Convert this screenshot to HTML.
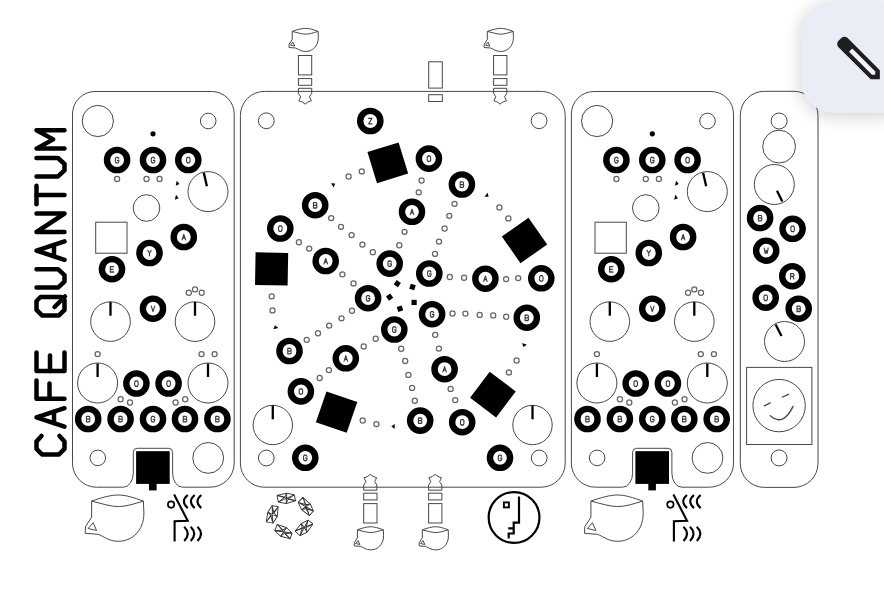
<!DOCTYPE html><html><head><meta charset="utf-8"><style>html,body{margin:0;padding:0;background:#fff}svg{display:block}</style></head><body><svg width="884" height="596" viewBox="0 0 884 596" font-family="Liberation Sans, sans-serif">
<rect width="884" height="596" fill="#fff"/>
<g fill="none" stroke="#000" stroke-width="4.5" stroke-linecap="round" stroke-linejoin="round">
<path d="M41.5,436.0 L36.5,441.5 L36.5,448.9 L42.0,454.4 L59.0,454.4 L64.5,448.9 L64.5,441.5 L59.5,436.0"/>
<path d="M64.5,426.6 L36.5,417.4 L64.5,408.2"/>
<path d="M54.0,423.1 L54.0,411.7"/>
<path d="M64.5,398.8 L36.5,398.8 L36.5,380.4"/>
<path d="M49.5,398.8 L49.5,383.4"/>
<path d="M64.5,352.6 L64.5,371.0 L36.5,371.0 L36.5,352.6"/>
<path d="M50.0,371.0 L50.0,355.6"/>
<path d="M64.5,309.9 L64.5,300.0 L61.5,297.0 L40.5,297.0 L36.5,301.0 L36.5,309.9 L42.0,315.4 L59.0,315.4 L64.5,309.9"/>
<path d="M54.5,307.0 L65.0,296.5"/>
<path d="M36.5,287.6 L58.0,287.6 L64.5,281.6 L64.5,275.2 L58.0,269.2 L36.5,269.2"/>
<path d="M64.5,259.8 L36.5,250.6 L64.5,241.4"/>
<path d="M54.0,256.3 L54.0,244.9"/>
<path d="M64.5,232.0 L36.5,232.0 L64.5,213.6 L36.5,213.6"/>
<path d="M36.5,204.2 L36.5,185.8"/>
<path d="M36.5,195.0 L64.5,195.0"/>
<path d="M36.5,176.4 L58.0,176.4 L64.5,170.4 L64.5,164.0 L58.0,158.0 L36.5,158.0"/>
<path d="M64.5,148.6 L36.5,148.6 L53.2,139.4 L36.5,130.2 L64.5,130.2"/>
</g>
<g transform="translate(0,0)">
<path d="M95.0,91.5 L211.7,91.5 A22.5,22.5 0 0 1 234.2,114.0 L234.2,463.2 A24,24 0 0 1 210.2,487.2 L182.6,487.2 A10,14 0 0 1 172.6,473.2 L172.6,452.3 A4,4 0 0 0 168.6,448.3 L137.3,448.3 A4,4 0 0 0 133.3,452.3 L133.3,473.2 A10,14 0 0 1 123.30000000000001,487.2 L96.5,487.2 A24,24 0 0 1 72.5,463.2 L72.5,114.0 A22.5,22.5 0 0 1 95.0,91.5 Z" fill="none" stroke="#484848" stroke-width="1.0"/>
<circle cx="97.8" cy="121.0" r="15.6" fill="none" stroke="#484848" stroke-width="1.0"/>
<circle cx="208.2" cy="121.0" r="7.8" fill="none" stroke="#484848" stroke-width="1.0"/>
<circle cx="153" cy="133.8" r="2.6" fill="#000"/>
<circle cx="117.1" cy="160.0" r="10.10" fill="#fff" stroke="#000" stroke-width="6.40"/>
<path d="M2.2,-1.8 L1.2,-3 L-1.2,-3 L-2.2,-1.8 L-2.2,1.8 L-1.2,3 L1.2,3 L2.2,1.8 L2.2,0.2 L0.3,0.2" transform="translate(117.1,160.1) scale(0.78,0.9)" fill="none" stroke="#3a3a3a" stroke-width="1.4" stroke-linejoin="round" stroke-linecap="round"/>
<circle cx="153.0" cy="160.0" r="10.10" fill="#fff" stroke="#000" stroke-width="6.40"/>
<path d="M2.2,-1.8 L1.2,-3 L-1.2,-3 L-2.2,-1.8 L-2.2,1.8 L-1.2,3 L1.2,3 L2.2,1.8 L2.2,0.2 L0.3,0.2" transform="translate(153.0,160.1) scale(0.78,0.9)" fill="none" stroke="#3a3a3a" stroke-width="1.4" stroke-linejoin="round" stroke-linecap="round"/>
<circle cx="188.3" cy="160.0" r="10.10" fill="#fff" stroke="#000" stroke-width="6.40"/>
<path d="M-1.2,-3 L1.2,-3 L2.2,-1.8 L2.2,1.8 L1.2,3 L-1.2,3 L-2.2,1.8 L-2.2,-1.8 Z" transform="translate(188.3,160.1) scale(0.78,0.9)" fill="none" stroke="#3a3a3a" stroke-width="1.4" stroke-linejoin="round" stroke-linecap="round"/>
<circle cx="117.1" cy="179.0" r="2.55" fill="#fff" stroke="#666" stroke-width="1.25"/>
<circle cx="146.5" cy="179.0" r="2.55" fill="#fff" stroke="#666" stroke-width="1.25"/>
<circle cx="159.6" cy="179.0" r="2.55" fill="#fff" stroke="#666" stroke-width="1.25"/>
<polygon points="179.45,183.96 176.75,180.78 175.69,185.77" fill="#000"/>
<polygon points="178.63,198.13 176.05,194.86 174.82,199.81" fill="#000"/>
<circle cx="208.0" cy="191.6" r="20" fill="none" stroke="#484848" stroke-width="1.0"/>
<line x1="203.8" y1="172.8" x2="206.9" y2="186.2" stroke="#000" stroke-width="2.3"/>
<circle cx="146.5" cy="208.0" r="13.3" fill="none" stroke="#484848" stroke-width="1.0"/>
<rect x="95.7" y="222.2" width="31.3" height="31" fill="none" stroke="#484848" stroke-width="1.0"/>
<circle cx="183.8" cy="237.0" r="10.10" fill="#fff" stroke="#000" stroke-width="6.40"/>
<path d="M-2.2,3 L0,-3 L2.2,3 M-1.4,1 L1.4,1" transform="translate(183.8,237.1) scale(0.78,0.9)" fill="none" stroke="#3a3a3a" stroke-width="1.4" stroke-linejoin="round" stroke-linecap="round"/>
<circle cx="149.5" cy="253.0" r="10.10" fill="#fff" stroke="#000" stroke-width="6.40"/>
<path d="M-2.2,-3 L0,0 L2.2,-3 M0,0 L0,3" transform="translate(149.5,253.1) scale(0.78,0.9)" fill="none" stroke="#3a3a3a" stroke-width="1.4" stroke-linejoin="round" stroke-linecap="round"/>
<circle cx="112.0" cy="269.2" r="10.10" fill="#fff" stroke="#000" stroke-width="6.40"/>
<path d="M2.2,-3 L-2.2,-3 L-2.2,3 L2.2,3 M-2.2,0 L1.4,0" transform="translate(112.0,269.3) scale(0.78,0.9)" fill="none" stroke="#3a3a3a" stroke-width="1.4" stroke-linejoin="round" stroke-linecap="round"/>
<circle cx="153.0" cy="308.7" r="10.10" fill="#fff" stroke="#000" stroke-width="6.40"/>
<path d="M-2.2,-3 L0,3 L2.2,-3" transform="translate(153.0,308.8) scale(0.78,0.9)" fill="none" stroke="#3a3a3a" stroke-width="1.4" stroke-linejoin="round" stroke-linecap="round"/>
<circle cx="110.5" cy="321.6" r="19.8" fill="none" stroke="#484848" stroke-width="1.0"/>
<line x1="110.5" y1="302.0" x2="110.5" y2="315.7" stroke="#000" stroke-width="2.3"/>
<circle cx="195.0" cy="321.6" r="19.8" fill="none" stroke="#484848" stroke-width="1.0"/>
<line x1="195.0" y1="302.0" x2="195.0" y2="315.7" stroke="#000" stroke-width="2.3"/>
<circle cx="188.8" cy="292.7" r="2.55" fill="#fff" stroke="#666" stroke-width="1.25"/>
<circle cx="195.0" cy="289.4" r="2.55" fill="#fff" stroke="#666" stroke-width="1.25"/>
<circle cx="201.7" cy="292.7" r="2.55" fill="#fff" stroke="#666" stroke-width="1.25"/>
<circle cx="97.6" cy="354.1" r="2.55" fill="#fff" stroke="#666" stroke-width="1.25"/>
<circle cx="201.5" cy="354.1" r="2.55" fill="#fff" stroke="#666" stroke-width="1.25"/>
<circle cx="214.6" cy="354.1" r="2.55" fill="#fff" stroke="#666" stroke-width="1.25"/>
<circle cx="97.6" cy="383.0" r="20" fill="none" stroke="#484848" stroke-width="1.0"/>
<line x1="97.6" y1="363.5" x2="97.6" y2="377.0" stroke="#000" stroke-width="2.3"/>
<circle cx="208.0" cy="383.0" r="20" fill="none" stroke="#484848" stroke-width="1.0"/>
<line x1="208.0" y1="363.5" x2="208.0" y2="377.0" stroke="#000" stroke-width="2.3"/>
<circle cx="136.4" cy="383.5" r="10.10" fill="#fff" stroke="#000" stroke-width="6.40"/>
<path d="M-1.2,-3 L1.2,-3 L2.2,-1.8 L2.2,1.8 L1.2,3 L-1.2,3 L-2.2,1.8 L-2.2,-1.8 Z" transform="translate(136.4,383.6) scale(0.78,0.9)" fill="none" stroke="#3a3a3a" stroke-width="1.4" stroke-linejoin="round" stroke-linecap="round"/>
<circle cx="168.6" cy="383.5" r="10.10" fill="#fff" stroke="#000" stroke-width="6.40"/>
<path d="M-1.2,-3 L1.2,-3 L2.2,-1.8 L2.2,1.8 L1.2,3 L-1.2,3 L-2.2,1.8 L-2.2,-1.8 Z" transform="translate(168.6,383.6) scale(0.78,0.9)" fill="none" stroke="#3a3a3a" stroke-width="1.4" stroke-linejoin="round" stroke-linecap="round"/>
<circle cx="120.6" cy="399.2" r="2.55" fill="#fff" stroke="#666" stroke-width="1.25"/>
<circle cx="130.0" cy="402.5" r="2.55" fill="#fff" stroke="#666" stroke-width="1.25"/>
<circle cx="175.6" cy="402.5" r="2.55" fill="#fff" stroke="#666" stroke-width="1.25"/>
<circle cx="185.2" cy="399.2" r="2.55" fill="#fff" stroke="#666" stroke-width="1.25"/>
<circle cx="88.2" cy="419.0" r="10.10" fill="#fff" stroke="#000" stroke-width="6.40"/>
<path d="M-2.2,0 L1.3,0 L2.0,-0.7 L2.0,-2.2 L1.2,-3 L-2.2,-3 L-2.2,3 L1.4,3 L2.2,2.2 L2.2,0.8 L1.3,0" transform="translate(88.2,419.1) scale(0.78,0.9)" fill="none" stroke="#3a3a3a" stroke-width="1.4" stroke-linejoin="round" stroke-linecap="round"/>
<circle cx="120.6" cy="419.0" r="10.10" fill="#fff" stroke="#000" stroke-width="6.40"/>
<path d="M-2.2,0 L1.3,0 L2.0,-0.7 L2.0,-2.2 L1.2,-3 L-2.2,-3 L-2.2,3 L1.4,3 L2.2,2.2 L2.2,0.8 L1.3,0" transform="translate(120.6,419.1) scale(0.78,0.9)" fill="none" stroke="#3a3a3a" stroke-width="1.4" stroke-linejoin="round" stroke-linecap="round"/>
<circle cx="153.0" cy="419.0" r="10.10" fill="#fff" stroke="#000" stroke-width="6.40"/>
<path d="M2.2,-1.8 L1.2,-3 L-1.2,-3 L-2.2,-1.8 L-2.2,1.8 L-1.2,3 L1.2,3 L2.2,1.8 L2.2,0.2 L0.3,0.2" transform="translate(153.0,419.1) scale(0.78,0.9)" fill="none" stroke="#3a3a3a" stroke-width="1.4" stroke-linejoin="round" stroke-linecap="round"/>
<circle cx="185.0" cy="419.0" r="10.10" fill="#fff" stroke="#000" stroke-width="6.40"/>
<path d="M-2.2,0 L1.3,0 L2.0,-0.7 L2.0,-2.2 L1.2,-3 L-2.2,-3 L-2.2,3 L1.4,3 L2.2,2.2 L2.2,0.8 L1.3,0" transform="translate(185.0,419.1) scale(0.78,0.9)" fill="none" stroke="#3a3a3a" stroke-width="1.4" stroke-linejoin="round" stroke-linecap="round"/>
<circle cx="217.4" cy="419.0" r="10.10" fill="#fff" stroke="#000" stroke-width="6.40"/>
<path d="M-2.2,0 L1.3,0 L2.0,-0.7 L2.0,-2.2 L1.2,-3 L-2.2,-3 L-2.2,3 L1.4,3 L2.2,2.2 L2.2,0.8 L1.3,0" transform="translate(217.4,419.1) scale(0.78,0.9)" fill="none" stroke="#3a3a3a" stroke-width="1.4" stroke-linejoin="round" stroke-linecap="round"/>
<circle cx="97.8" cy="457.9" r="7.8" fill="none" stroke="#484848" stroke-width="1.0"/>
<circle cx="208.2" cy="457.9" r="15.4" fill="none" stroke="#484848" stroke-width="1.0"/>
<rect x="136.1" y="451.2" width="33.6" height="32.7" fill="#000"/>
<rect x="149" y="483" width="7.6" height="7.4" fill="#000"/>
<g transform="translate(91.6,501.1) scale(1.0)" fill="none" stroke="#484848" stroke-width="1.00" stroke-linejoin="round">
<path d="M0,0 C10,-3.5 19,-6.1 26.7,-6.1 S42,-3.5 51.8,0 C42,3 34,5.5 26.7,5.5 S10,2.5 0,0 Z"/>
<path d="M0,0 L0,16.1 L-6.1,25.6 L-6.4,32.2 L6.5,33.2 C12,35 17,40.2 26.7,40.2 C40,40.2 52.3,30 52.3,12 L51.8,0"/>
<path d="M-3.5,27.4 L1.5,21.6 L5,29.4 Z"/>
</g>
<g fill="none" stroke="#000" stroke-width="2.1" stroke-linecap="butt">
<circle cx="171.1" cy="504.6" r="3.2" stroke-width="1.7"/>
<path d="M174.1,494.5 L187.7,520.7 L174.6,521.2 L174.6,541.4"/>
<path d="M187.7,495 Q180.1,501.5 187.7,508.1"/>
<path d="M194.7,495 Q187.1,501.5 194.7,508.1"/>
<path d="M201.3,495 Q193.70000000000002,501.5 201.3,508.1"/>
<path d="M184.2,526.8 Q191.2,533.8 184.2,540.9"/>
<path d="M190.7,526.8 Q197.7,533.8 190.7,540.9"/>
<path d="M197.5,526.8 Q204.5,533.8 197.5,540.9"/>
</g>
</g>
<g transform="translate(499.3,0)">
<path d="M94.6,91.5 L211.7,91.5 A22.5,22.5 0 0 1 234.2,114.0 L234.2,463.2 A24,24 0 0 1 210.2,487.2 L182.6,487.2 A10,14 0 0 1 172.6,473.2 L172.6,452.3 A4,4 0 0 0 168.6,448.3 L137.3,448.3 A4,4 0 0 0 133.3,452.3 L133.3,473.2 A10,14 0 0 1 123.30000000000001,487.2 L96.1,487.2 A24,24 0 0 1 72.1,463.2 L72.1,114.0 A22.5,22.5 0 0 1 94.6,91.5 Z" fill="none" stroke="#484848" stroke-width="1.0"/>
<circle cx="97.8" cy="121.0" r="15.6" fill="none" stroke="#484848" stroke-width="1.0"/>
<circle cx="208.2" cy="121.0" r="7.8" fill="none" stroke="#484848" stroke-width="1.0"/>
<circle cx="153" cy="133.8" r="2.6" fill="#000"/>
<circle cx="117.1" cy="160.0" r="10.10" fill="#fff" stroke="#000" stroke-width="6.40"/>
<path d="M2.2,-1.8 L1.2,-3 L-1.2,-3 L-2.2,-1.8 L-2.2,1.8 L-1.2,3 L1.2,3 L2.2,1.8 L2.2,0.2 L0.3,0.2" transform="translate(117.1,160.1) scale(0.78,0.9)" fill="none" stroke="#3a3a3a" stroke-width="1.4" stroke-linejoin="round" stroke-linecap="round"/>
<circle cx="153.0" cy="160.0" r="10.10" fill="#fff" stroke="#000" stroke-width="6.40"/>
<path d="M2.2,-1.8 L1.2,-3 L-1.2,-3 L-2.2,-1.8 L-2.2,1.8 L-1.2,3 L1.2,3 L2.2,1.8 L2.2,0.2 L0.3,0.2" transform="translate(153.0,160.1) scale(0.78,0.9)" fill="none" stroke="#3a3a3a" stroke-width="1.4" stroke-linejoin="round" stroke-linecap="round"/>
<circle cx="188.3" cy="160.0" r="10.10" fill="#fff" stroke="#000" stroke-width="6.40"/>
<path d="M-1.2,-3 L1.2,-3 L2.2,-1.8 L2.2,1.8 L1.2,3 L-1.2,3 L-2.2,1.8 L-2.2,-1.8 Z" transform="translate(188.3,160.1) scale(0.78,0.9)" fill="none" stroke="#3a3a3a" stroke-width="1.4" stroke-linejoin="round" stroke-linecap="round"/>
<circle cx="117.1" cy="179.0" r="2.55" fill="#fff" stroke="#666" stroke-width="1.25"/>
<circle cx="146.5" cy="179.0" r="2.55" fill="#fff" stroke="#666" stroke-width="1.25"/>
<circle cx="159.6" cy="179.0" r="2.55" fill="#fff" stroke="#666" stroke-width="1.25"/>
<polygon points="179.45,183.96 176.75,180.78 175.69,185.77" fill="#000"/>
<polygon points="178.63,198.13 176.05,194.86 174.82,199.81" fill="#000"/>
<circle cx="208.0" cy="191.6" r="20" fill="none" stroke="#484848" stroke-width="1.0"/>
<line x1="203.8" y1="172.8" x2="206.9" y2="186.2" stroke="#000" stroke-width="2.3"/>
<circle cx="146.5" cy="208.0" r="13.3" fill="none" stroke="#484848" stroke-width="1.0"/>
<rect x="95.7" y="222.2" width="31.3" height="31" fill="none" stroke="#484848" stroke-width="1.0"/>
<circle cx="183.8" cy="237.0" r="10.10" fill="#fff" stroke="#000" stroke-width="6.40"/>
<path d="M-2.2,3 L0,-3 L2.2,3 M-1.4,1 L1.4,1" transform="translate(183.8,237.1) scale(0.78,0.9)" fill="none" stroke="#3a3a3a" stroke-width="1.4" stroke-linejoin="round" stroke-linecap="round"/>
<circle cx="149.5" cy="253.0" r="10.10" fill="#fff" stroke="#000" stroke-width="6.40"/>
<path d="M-2.2,-3 L0,0 L2.2,-3 M0,0 L0,3" transform="translate(149.5,253.1) scale(0.78,0.9)" fill="none" stroke="#3a3a3a" stroke-width="1.4" stroke-linejoin="round" stroke-linecap="round"/>
<circle cx="112.0" cy="269.2" r="10.10" fill="#fff" stroke="#000" stroke-width="6.40"/>
<path d="M2.2,-3 L-2.2,-3 L-2.2,3 L2.2,3 M-2.2,0 L1.4,0" transform="translate(112.0,269.3) scale(0.78,0.9)" fill="none" stroke="#3a3a3a" stroke-width="1.4" stroke-linejoin="round" stroke-linecap="round"/>
<circle cx="153.0" cy="308.7" r="10.10" fill="#fff" stroke="#000" stroke-width="6.40"/>
<path d="M-2.2,-3 L0,3 L2.2,-3" transform="translate(153.0,308.8) scale(0.78,0.9)" fill="none" stroke="#3a3a3a" stroke-width="1.4" stroke-linejoin="round" stroke-linecap="round"/>
<circle cx="110.5" cy="321.6" r="19.8" fill="none" stroke="#484848" stroke-width="1.0"/>
<line x1="110.5" y1="302.0" x2="110.5" y2="315.7" stroke="#000" stroke-width="2.3"/>
<circle cx="195.0" cy="321.6" r="19.8" fill="none" stroke="#484848" stroke-width="1.0"/>
<line x1="195.0" y1="302.0" x2="195.0" y2="315.7" stroke="#000" stroke-width="2.3"/>
<circle cx="188.8" cy="292.7" r="2.55" fill="#fff" stroke="#666" stroke-width="1.25"/>
<circle cx="195.0" cy="289.4" r="2.55" fill="#fff" stroke="#666" stroke-width="1.25"/>
<circle cx="201.7" cy="292.7" r="2.55" fill="#fff" stroke="#666" stroke-width="1.25"/>
<circle cx="97.6" cy="354.1" r="2.55" fill="#fff" stroke="#666" stroke-width="1.25"/>
<circle cx="201.5" cy="354.1" r="2.55" fill="#fff" stroke="#666" stroke-width="1.25"/>
<circle cx="214.6" cy="354.1" r="2.55" fill="#fff" stroke="#666" stroke-width="1.25"/>
<circle cx="97.6" cy="383.0" r="20" fill="none" stroke="#484848" stroke-width="1.0"/>
<line x1="97.6" y1="363.5" x2="97.6" y2="377.0" stroke="#000" stroke-width="2.3"/>
<circle cx="208.0" cy="383.0" r="20" fill="none" stroke="#484848" stroke-width="1.0"/>
<line x1="208.0" y1="363.5" x2="208.0" y2="377.0" stroke="#000" stroke-width="2.3"/>
<circle cx="136.4" cy="383.5" r="10.10" fill="#fff" stroke="#000" stroke-width="6.40"/>
<path d="M-1.2,-3 L1.2,-3 L2.2,-1.8 L2.2,1.8 L1.2,3 L-1.2,3 L-2.2,1.8 L-2.2,-1.8 Z" transform="translate(136.4,383.6) scale(0.78,0.9)" fill="none" stroke="#3a3a3a" stroke-width="1.4" stroke-linejoin="round" stroke-linecap="round"/>
<circle cx="168.6" cy="383.5" r="10.10" fill="#fff" stroke="#000" stroke-width="6.40"/>
<path d="M-1.2,-3 L1.2,-3 L2.2,-1.8 L2.2,1.8 L1.2,3 L-1.2,3 L-2.2,1.8 L-2.2,-1.8 Z" transform="translate(168.6,383.6) scale(0.78,0.9)" fill="none" stroke="#3a3a3a" stroke-width="1.4" stroke-linejoin="round" stroke-linecap="round"/>
<circle cx="120.6" cy="399.2" r="2.55" fill="#fff" stroke="#666" stroke-width="1.25"/>
<circle cx="130.0" cy="402.5" r="2.55" fill="#fff" stroke="#666" stroke-width="1.25"/>
<circle cx="175.6" cy="402.5" r="2.55" fill="#fff" stroke="#666" stroke-width="1.25"/>
<circle cx="185.2" cy="399.2" r="2.55" fill="#fff" stroke="#666" stroke-width="1.25"/>
<circle cx="88.2" cy="419.0" r="10.10" fill="#fff" stroke="#000" stroke-width="6.40"/>
<path d="M-2.2,0 L1.3,0 L2.0,-0.7 L2.0,-2.2 L1.2,-3 L-2.2,-3 L-2.2,3 L1.4,3 L2.2,2.2 L2.2,0.8 L1.3,0" transform="translate(88.2,419.1) scale(0.78,0.9)" fill="none" stroke="#3a3a3a" stroke-width="1.4" stroke-linejoin="round" stroke-linecap="round"/>
<circle cx="120.6" cy="419.0" r="10.10" fill="#fff" stroke="#000" stroke-width="6.40"/>
<path d="M-2.2,0 L1.3,0 L2.0,-0.7 L2.0,-2.2 L1.2,-3 L-2.2,-3 L-2.2,3 L1.4,3 L2.2,2.2 L2.2,0.8 L1.3,0" transform="translate(120.6,419.1) scale(0.78,0.9)" fill="none" stroke="#3a3a3a" stroke-width="1.4" stroke-linejoin="round" stroke-linecap="round"/>
<circle cx="153.0" cy="419.0" r="10.10" fill="#fff" stroke="#000" stroke-width="6.40"/>
<path d="M2.2,-1.8 L1.2,-3 L-1.2,-3 L-2.2,-1.8 L-2.2,1.8 L-1.2,3 L1.2,3 L2.2,1.8 L2.2,0.2 L0.3,0.2" transform="translate(153.0,419.1) scale(0.78,0.9)" fill="none" stroke="#3a3a3a" stroke-width="1.4" stroke-linejoin="round" stroke-linecap="round"/>
<circle cx="185.0" cy="419.0" r="10.10" fill="#fff" stroke="#000" stroke-width="6.40"/>
<path d="M-2.2,0 L1.3,0 L2.0,-0.7 L2.0,-2.2 L1.2,-3 L-2.2,-3 L-2.2,3 L1.4,3 L2.2,2.2 L2.2,0.8 L1.3,0" transform="translate(185.0,419.1) scale(0.78,0.9)" fill="none" stroke="#3a3a3a" stroke-width="1.4" stroke-linejoin="round" stroke-linecap="round"/>
<circle cx="217.4" cy="419.0" r="10.10" fill="#fff" stroke="#000" stroke-width="6.40"/>
<path d="M-2.2,0 L1.3,0 L2.0,-0.7 L2.0,-2.2 L1.2,-3 L-2.2,-3 L-2.2,3 L1.4,3 L2.2,2.2 L2.2,0.8 L1.3,0" transform="translate(217.4,419.1) scale(0.78,0.9)" fill="none" stroke="#3a3a3a" stroke-width="1.4" stroke-linejoin="round" stroke-linecap="round"/>
<circle cx="97.8" cy="457.9" r="7.8" fill="none" stroke="#484848" stroke-width="1.0"/>
<circle cx="208.2" cy="457.9" r="15.4" fill="none" stroke="#484848" stroke-width="1.0"/>
<rect x="136.1" y="451.2" width="33.6" height="32.7" fill="#000"/>
<rect x="149" y="483" width="7.6" height="7.4" fill="#000"/>
<g transform="translate(91.6,501.1) scale(1.0)" fill="none" stroke="#484848" stroke-width="1.00" stroke-linejoin="round">
<path d="M0,0 C10,-3.5 19,-6.1 26.7,-6.1 S42,-3.5 51.8,0 C42,3 34,5.5 26.7,5.5 S10,2.5 0,0 Z"/>
<path d="M0,0 L0,16.1 L-6.1,25.6 L-6.4,32.2 L6.5,33.2 C12,35 17,40.2 26.7,40.2 C40,40.2 52.3,30 52.3,12 L51.8,0"/>
<path d="M-3.5,27.4 L1.5,21.6 L5,29.4 Z"/>
</g>
<g fill="none" stroke="#000" stroke-width="2.1" stroke-linecap="butt">
<circle cx="171.1" cy="504.6" r="3.2" stroke-width="1.7"/>
<path d="M174.1,494.5 L187.7,520.7 L174.6,521.2 L174.6,541.4"/>
<path d="M187.7,495 Q180.1,501.5 187.7,508.1"/>
<path d="M194.7,495 Q187.1,501.5 194.7,508.1"/>
<path d="M201.3,495 Q193.70000000000002,501.5 201.3,508.1"/>
<path d="M184.2,526.8 Q191.2,533.8 184.2,540.9"/>
<path d="M190.7,526.8 Q197.7,533.8 190.7,540.9"/>
<path d="M197.5,526.8 Q204.5,533.8 197.5,540.9"/>
</g>
</g>
<rect x="240.4" y="91.4" width="324.80000000000007" height="395.79999999999995" rx="24" fill="none" stroke="#484848" stroke-width="1.0"/>
<circle cx="499.4" cy="207.5" r="2.55" fill="#fff" stroke="#666" stroke-width="1.25"/>
<circle cx="508.4" cy="218.4" r="2.55" fill="#fff" stroke="#666" stroke-width="1.25"/>
<circle cx="372.8" cy="252.2" r="2.55" fill="#fff" stroke="#666" stroke-width="1.25"/>
<circle cx="362.4" cy="244.6" r="2.55" fill="#fff" stroke="#666" stroke-width="1.25"/>
<circle cx="351.6" cy="235.1" r="2.55" fill="#fff" stroke="#666" stroke-width="1.25"/>
<circle cx="341.0" cy="226.8" r="2.55" fill="#fff" stroke="#666" stroke-width="1.25"/>
<circle cx="331.2" cy="218.1" r="2.55" fill="#fff" stroke="#666" stroke-width="1.25"/>
<circle cx="399.3" cy="245.2" r="2.55" fill="#fff" stroke="#666" stroke-width="1.25"/>
<circle cx="404.5" cy="231.8" r="2.55" fill="#fff" stroke="#666" stroke-width="1.25"/>
<circle cx="418.7" cy="192.3" r="2.55" fill="#fff" stroke="#666" stroke-width="1.25"/>
<circle cx="421.6" cy="180.5" r="2.55" fill="#fff" stroke="#666" stroke-width="1.25"/>
<polygon points="488.59,196.86 487.70,192.79 484.42,196.69" fill="#000"/>
<rect x="-16.3" y="-16.3" width="32.6" height="32.6" fill="#000" transform="translate(524.5,240.5) rotate(145.0)"/>
<rect x="-2.6" y="-2.6" width="5.2" height="5.2" fill="#000" transform="translate(412.5,287.0) rotate(18.0)"/>
<circle cx="429.3" cy="273.5" r="10.10" fill="#fff" stroke="#000" stroke-width="6.40"/>
<path d="M2.2,-1.8 L1.2,-3 L-1.2,-3 L-2.2,-1.8 L-2.2,1.8 L-1.2,3 L1.2,3 L2.2,1.8 L2.2,0.2 L0.3,0.2" transform="translate(429.3,273.6) scale(0.78,0.9)" fill="none" stroke="#3a3a3a" stroke-width="1.4" stroke-linejoin="round" stroke-linecap="round"/>
<circle cx="412.0" cy="211.8" r="10.10" fill="#fff" stroke="#000" stroke-width="6.40"/>
<path d="M-2.2,3 L0,-3 L2.2,3 M-1.4,1 L1.4,1" transform="translate(412.0,211.9) scale(0.78,0.9)" fill="none" stroke="#3a3a3a" stroke-width="1.4" stroke-linejoin="round" stroke-linecap="round"/>
<circle cx="428.9" cy="158.6" r="10.10" fill="#fff" stroke="#000" stroke-width="6.40"/>
<path d="M-1.2,-3 L1.2,-3 L2.2,-1.8 L2.2,1.8 L1.2,3 L-1.2,3 L-2.2,1.8 L-2.2,-1.8 Z" transform="translate(428.9,158.7) scale(0.78,0.9)" fill="none" stroke="#3a3a3a" stroke-width="1.4" stroke-linejoin="round" stroke-linecap="round"/>
<circle cx="461.9" cy="184.5" r="10.10" fill="#fff" stroke="#000" stroke-width="6.40"/>
<path d="M-2.2,0 L1.3,0 L2.0,-0.7 L2.0,-2.2 L1.2,-3 L-2.2,-3 L-2.2,3 L1.4,3 L2.2,2.2 L2.2,0.8 L1.3,0" transform="translate(461.9,184.6) scale(0.78,0.9)" fill="none" stroke="#3a3a3a" stroke-width="1.4" stroke-linejoin="round" stroke-linecap="round"/>
<circle cx="516.6" cy="360.5" r="2.55" fill="#fff" stroke="#666" stroke-width="1.25"/>
<circle cx="508.9" cy="372.4" r="2.55" fill="#fff" stroke="#666" stroke-width="1.25"/>
<circle cx="435.0" cy="253.9" r="2.55" fill="#fff" stroke="#666" stroke-width="1.25"/>
<circle cx="439.0" cy="241.6" r="2.55" fill="#fff" stroke="#666" stroke-width="1.25"/>
<circle cx="444.6" cy="228.5" r="2.55" fill="#fff" stroke="#666" stroke-width="1.25"/>
<circle cx="449.3" cy="215.8" r="2.55" fill="#fff" stroke="#666" stroke-width="1.25"/>
<circle cx="454.5" cy="203.8" r="2.55" fill="#fff" stroke="#666" stroke-width="1.25"/>
<circle cx="449.8" cy="277.0" r="2.55" fill="#fff" stroke="#666" stroke-width="1.25"/>
<circle cx="464.1" cy="277.7" r="2.55" fill="#fff" stroke="#666" stroke-width="1.25"/>
<circle cx="506.1" cy="279.1" r="2.55" fill="#fff" stroke="#666" stroke-width="1.25"/>
<circle cx="518.2" cy="278.1" r="2.55" fill="#fff" stroke="#666" stroke-width="1.25"/>
<polygon points="523.34,346.91 526.94,344.81 522.21,342.90" fill="#000"/>
<rect x="-16.3" y="-16.3" width="32.6" height="32.6" fill="#000" transform="translate(492.9,394.6) rotate(217.0)"/>
<rect x="-2.6" y="-2.6" width="5.2" height="5.2" fill="#000" transform="translate(414.1,302.4) rotate(90.0)"/>
<circle cx="432.1" cy="314.2" r="10.10" fill="#fff" stroke="#000" stroke-width="6.40"/>
<path d="M2.2,-1.8 L1.2,-3 L-1.2,-3 L-2.2,-1.8 L-2.2,1.8 L-1.2,3 L1.2,3 L2.2,1.8 L2.2,0.2 L0.3,0.2" transform="translate(432.1,314.3) scale(0.78,0.9)" fill="none" stroke="#3a3a3a" stroke-width="1.4" stroke-linejoin="round" stroke-linecap="round"/>
<circle cx="485.4" cy="278.7" r="10.10" fill="#fff" stroke="#000" stroke-width="6.40"/>
<path d="M-2.2,3 L0,-3 L2.2,3 M-1.4,1 L1.4,1" transform="translate(485.4,278.8) scale(0.78,0.9)" fill="none" stroke="#3a3a3a" stroke-width="1.4" stroke-linejoin="round" stroke-linecap="round"/>
<circle cx="541.3" cy="278.3" r="10.10" fill="#fff" stroke="#000" stroke-width="6.40"/>
<path d="M-1.2,-3 L1.2,-3 L2.2,-1.8 L2.2,1.8 L1.2,3 L-1.2,3 L-2.2,1.8 L-2.2,-1.8 Z" transform="translate(541.3,278.4) scale(0.78,0.9)" fill="none" stroke="#3a3a3a" stroke-width="1.4" stroke-linejoin="round" stroke-linecap="round"/>
<circle cx="526.8" cy="317.7" r="10.10" fill="#fff" stroke="#000" stroke-width="6.40"/>
<path d="M-2.2,0 L1.3,0 L2.0,-0.7 L2.0,-2.2 L1.2,-3 L-2.2,-3 L-2.2,3 L1.4,3 L2.2,2.2 L2.2,0.8 L1.3,0" transform="translate(526.8,317.8) scale(0.78,0.9)" fill="none" stroke="#3a3a3a" stroke-width="1.4" stroke-linejoin="round" stroke-linecap="round"/>
<circle cx="376.4" cy="424.1" r="2.55" fill="#fff" stroke="#666" stroke-width="1.25"/>
<circle cx="362.7" cy="420.5" r="2.55" fill="#fff" stroke="#666" stroke-width="1.25"/>
<circle cx="452.5" cy="313.5" r="2.55" fill="#fff" stroke="#666" stroke-width="1.25"/>
<circle cx="465.4" cy="313.6" r="2.55" fill="#fff" stroke="#666" stroke-width="1.25"/>
<circle cx="479.7" cy="314.9" r="2.55" fill="#fff" stroke="#666" stroke-width="1.25"/>
<circle cx="493.2" cy="315.4" r="2.55" fill="#fff" stroke="#666" stroke-width="1.25"/>
<circle cx="506.2" cy="316.7" r="2.55" fill="#fff" stroke="#666" stroke-width="1.25"/>
<circle cx="435.2" cy="334.8" r="2.55" fill="#fff" stroke="#666" stroke-width="1.25"/>
<circle cx="438.9" cy="348.6" r="2.55" fill="#fff" stroke="#666" stroke-width="1.25"/>
<circle cx="450.6" cy="388.9" r="2.55" fill="#fff" stroke="#666" stroke-width="1.25"/>
<circle cx="455.2" cy="400.1" r="2.55" fill="#fff" stroke="#666" stroke-width="1.25"/>
<polygon points="391.37,426.33 394.48,429.10 394.84,424.01" fill="#000"/>
<rect x="-16.3" y="-16.3" width="32.6" height="32.6" fill="#000" transform="translate(336.6,412.1) rotate(289.0)"/>
<rect x="-2.6" y="-2.6" width="5.2" height="5.2" fill="#000" transform="translate(400.0,308.7) rotate(162.0)"/>
<circle cx="394.3" cy="329.5" r="10.10" fill="#fff" stroke="#000" stroke-width="6.40"/>
<path d="M2.2,-1.8 L1.2,-3 L-1.2,-3 L-2.2,-1.8 L-2.2,1.8 L-1.2,3 L1.2,3 L2.2,1.8 L2.2,0.2 L0.3,0.2" transform="translate(394.3,329.6) scale(0.78,0.9)" fill="none" stroke="#3a3a3a" stroke-width="1.4" stroke-linejoin="round" stroke-linecap="round"/>
<circle cx="444.6" cy="369.2" r="10.10" fill="#fff" stroke="#000" stroke-width="6.40"/>
<path d="M-2.2,3 L0,-3 L2.2,3 M-1.4,1 L1.4,1" transform="translate(444.6,369.3) scale(0.78,0.9)" fill="none" stroke="#3a3a3a" stroke-width="1.4" stroke-linejoin="round" stroke-linecap="round"/>
<circle cx="462.2" cy="422.2" r="10.10" fill="#fff" stroke="#000" stroke-width="6.40"/>
<path d="M-1.2,-3 L1.2,-3 L2.2,-1.8 L2.2,1.8 L1.2,3 L-1.2,3 L-2.2,1.8 L-2.2,-1.8 Z" transform="translate(462.2,422.3) scale(0.78,0.9)" fill="none" stroke="#3a3a3a" stroke-width="1.4" stroke-linejoin="round" stroke-linecap="round"/>
<circle cx="420.2" cy="420.6" r="10.10" fill="#fff" stroke="#000" stroke-width="6.40"/>
<path d="M-2.2,0 L1.3,0 L2.0,-0.7 L2.0,-2.2 L1.2,-3 L-2.2,-3 L-2.2,3 L1.4,3 L2.2,2.2 L2.2,0.8 L1.3,0" transform="translate(420.2,420.7) scale(0.78,0.9)" fill="none" stroke="#3a3a3a" stroke-width="1.4" stroke-linejoin="round" stroke-linecap="round"/>
<circle cx="272.5" cy="310.4" r="2.55" fill="#fff" stroke="#666" stroke-width="1.25"/>
<circle cx="271.7" cy="296.3" r="2.55" fill="#fff" stroke="#666" stroke-width="1.25"/>
<circle cx="401.2" cy="348.7" r="2.55" fill="#fff" stroke="#666" stroke-width="1.25"/>
<circle cx="405.2" cy="361.0" r="2.55" fill="#fff" stroke="#666" stroke-width="1.25"/>
<circle cx="408.4" cy="374.9" r="2.55" fill="#fff" stroke="#666" stroke-width="1.25"/>
<circle cx="412.1" cy="387.9" r="2.55" fill="#fff" stroke="#666" stroke-width="1.25"/>
<circle cx="414.8" cy="400.7" r="2.55" fill="#fff" stroke="#666" stroke-width="1.25"/>
<circle cx="375.7" cy="338.7" r="2.55" fill="#fff" stroke="#666" stroke-width="1.25"/>
<circle cx="363.7" cy="346.5" r="2.55" fill="#fff" stroke="#666" stroke-width="1.25"/>
<circle cx="328.9" cy="370.1" r="2.55" fill="#fff" stroke="#666" stroke-width="1.25"/>
<circle cx="319.7" cy="378.0" r="2.55" fill="#fff" stroke="#666" stroke-width="1.25"/>
<polygon points="275.06,325.36 273.38,329.18 278.33,327.94" fill="#000"/>
<rect x="-16.3" y="-16.3" width="32.6" height="32.6" fill="#000" transform="translate(271.6,268.9) rotate(361.0)"/>
<rect x="-2.6" y="-2.6" width="5.2" height="5.2" fill="#000" transform="translate(389.6,297.2) rotate(234.0)"/>
<circle cx="368.1" cy="298.2" r="10.10" fill="#fff" stroke="#000" stroke-width="6.40"/>
<path d="M2.2,-1.8 L1.2,-3 L-1.2,-3 L-2.2,-1.8 L-2.2,1.8 L-1.2,3 L1.2,3 L2.2,1.8 L2.2,0.2 L0.3,0.2" transform="translate(368.1,298.3) scale(0.78,0.9)" fill="none" stroke="#3a3a3a" stroke-width="1.4" stroke-linejoin="round" stroke-linecap="round"/>
<circle cx="345.8" cy="358.3" r="10.10" fill="#fff" stroke="#000" stroke-width="6.40"/>
<path d="M-2.2,3 L0,-3 L2.2,3 M-1.4,1 L1.4,1" transform="translate(345.8,358.4) scale(0.78,0.9)" fill="none" stroke="#3a3a3a" stroke-width="1.4" stroke-linejoin="round" stroke-linecap="round"/>
<circle cx="300.9" cy="391.4" r="10.10" fill="#fff" stroke="#000" stroke-width="6.40"/>
<path d="M-1.2,-3 L1.2,-3 L2.2,-1.8 L2.2,1.8 L1.2,3 L-1.2,3 L-2.2,1.8 L-2.2,-1.8 Z" transform="translate(300.9,391.5) scale(0.78,0.9)" fill="none" stroke="#3a3a3a" stroke-width="1.4" stroke-linejoin="round" stroke-linecap="round"/>
<circle cx="289.5" cy="351.0" r="10.10" fill="#fff" stroke="#000" stroke-width="6.40"/>
<path d="M-2.2,0 L1.3,0 L2.0,-0.7 L2.0,-2.2 L1.2,-3 L-2.2,-3 L-2.2,3 L1.4,3 L2.2,2.2 L2.2,0.8 L1.3,0" transform="translate(289.5,351.1) scale(0.78,0.9)" fill="none" stroke="#3a3a3a" stroke-width="1.4" stroke-linejoin="round" stroke-linecap="round"/>
<circle cx="348.6" cy="176.5" r="2.55" fill="#fff" stroke="#666" stroke-width="1.25"/>
<circle cx="361.8" cy="171.4" r="2.55" fill="#fff" stroke="#666" stroke-width="1.25"/>
<circle cx="352.0" cy="310.7" r="2.55" fill="#fff" stroke="#666" stroke-width="1.25"/>
<circle cx="341.5" cy="318.3" r="2.55" fill="#fff" stroke="#666" stroke-width="1.25"/>
<circle cx="329.2" cy="325.6" r="2.55" fill="#fff" stroke="#666" stroke-width="1.25"/>
<circle cx="318.0" cy="333.2" r="2.55" fill="#fff" stroke="#666" stroke-width="1.25"/>
<circle cx="306.7" cy="339.8" r="2.55" fill="#fff" stroke="#666" stroke-width="1.25"/>
<circle cx="353.5" cy="283.4" r="2.55" fill="#fff" stroke="#666" stroke-width="1.25"/>
<circle cx="342.4" cy="274.3" r="2.55" fill="#fff" stroke="#666" stroke-width="1.25"/>
<circle cx="309.2" cy="248.6" r="2.55" fill="#fff" stroke="#666" stroke-width="1.25"/>
<circle cx="298.9" cy="242.2" r="2.55" fill="#fff" stroke="#666" stroke-width="1.25"/>
<polygon points="335.15,183.54 331.00,183.13 333.70,187.45" fill="#000"/>
<rect x="-16.3" y="-16.3" width="32.6" height="32.6" fill="#000" transform="translate(387.8,162.8) rotate(433.0)"/>
<rect x="-2.6" y="-2.6" width="5.2" height="5.2" fill="#000" transform="translate(397.3,283.7) rotate(306.0)"/>
<circle cx="389.7" cy="263.6" r="10.10" fill="#fff" stroke="#000" stroke-width="6.40"/>
<path d="M2.2,-1.8 L1.2,-3 L-1.2,-3 L-2.2,-1.8 L-2.2,1.8 L-1.2,3 L1.2,3 L2.2,1.8 L2.2,0.2 L0.3,0.2" transform="translate(389.7,263.7) scale(0.78,0.9)" fill="none" stroke="#3a3a3a" stroke-width="1.4" stroke-linejoin="round" stroke-linecap="round"/>
<circle cx="325.7" cy="261.0" r="10.10" fill="#fff" stroke="#000" stroke-width="6.40"/>
<path d="M-2.2,3 L0,-3 L2.2,3 M-1.4,1 L1.4,1" transform="translate(325.7,261.1) scale(0.78,0.9)" fill="none" stroke="#3a3a3a" stroke-width="1.4" stroke-linejoin="round" stroke-linecap="round"/>
<circle cx="280.3" cy="228.5" r="10.10" fill="#fff" stroke="#000" stroke-width="6.40"/>
<path d="M-1.2,-3 L1.2,-3 L2.2,-1.8 L2.2,1.8 L1.2,3 L-1.2,3 L-2.2,1.8 L-2.2,-1.8 Z" transform="translate(280.3,228.6) scale(0.78,0.9)" fill="none" stroke="#3a3a3a" stroke-width="1.4" stroke-linejoin="round" stroke-linecap="round"/>
<circle cx="315.2" cy="205.2" r="10.10" fill="#fff" stroke="#000" stroke-width="6.40"/>
<path d="M-2.2,0 L1.3,0 L2.0,-0.7 L2.0,-2.2 L1.2,-3 L-2.2,-3 L-2.2,3 L1.4,3 L2.2,2.2 L2.2,0.8 L1.3,0" transform="translate(315.2,205.3) scale(0.78,0.9)" fill="none" stroke="#3a3a3a" stroke-width="1.4" stroke-linejoin="round" stroke-linecap="round"/>
<circle cx="370.3" cy="121.0" r="10.10" fill="#fff" stroke="#000" stroke-width="6.40"/>
<path d="M-2.2,-3 L2.2,-3 L-2.2,3 L2.2,3" transform="translate(370.3,121.1) scale(0.78,0.9)" fill="none" stroke="#3a3a3a" stroke-width="1.4" stroke-linejoin="round" stroke-linecap="round"/>
<circle cx="305.3" cy="457.8" r="10.10" fill="#fff" stroke="#000" stroke-width="6.40"/>
<path d="M2.2,-1.8 L1.2,-3 L-1.2,-3 L-2.2,-1.8 L-2.2,1.8 L-1.2,3 L1.2,3 L2.2,1.8 L2.2,0.2 L0.3,0.2" transform="translate(305.3,457.9) scale(0.78,0.9)" fill="none" stroke="#3a3a3a" stroke-width="1.4" stroke-linejoin="round" stroke-linecap="round"/>
<circle cx="500.0" cy="457.8" r="10.10" fill="#fff" stroke="#000" stroke-width="6.40"/>
<path d="M2.2,-1.8 L1.2,-3 L-1.2,-3 L-2.2,-1.8 L-2.2,1.8 L-1.2,3 L1.2,3 L2.2,1.8 L2.2,0.2 L0.3,0.2" transform="translate(500.0,457.9) scale(0.78,0.9)" fill="none" stroke="#3a3a3a" stroke-width="1.4" stroke-linejoin="round" stroke-linecap="round"/>
<circle cx="266.3" cy="120.8" r="7.9" fill="none" stroke="#484848" stroke-width="1.0"/>
<circle cx="539.1" cy="120.8" r="7.9" fill="none" stroke="#484848" stroke-width="1.0"/>
<circle cx="266.3" cy="458.0" r="7.9" fill="none" stroke="#484848" stroke-width="1.0"/>
<circle cx="539.2" cy="458.0" r="7.9" fill="none" stroke="#484848" stroke-width="1.0"/>
<circle cx="272.8" cy="425.0" r="19.7" fill="none" stroke="#484848" stroke-width="1.0"/>
<line x1="272.8" y1="405.4" x2="272.8" y2="419.3" stroke="#000" stroke-width="2.3"/>
<circle cx="532.5" cy="425.0" r="19.7" fill="none" stroke="#484848" stroke-width="1.0"/>
<line x1="532.5" y1="405.4" x2="532.5" y2="419.3" stroke="#000" stroke-width="2.3"/>
<polygon points="298.4,88.3 311.7,88.3 311.7,93.5 309.4,96.8 311.4,100.8 307.9,102.0 305.1,104.1 302.2,102.0 298.8,100.8 300.7,96.8 298.4,93.5" fill="none" stroke="#484848" stroke-width="1.0"/>
<rect x="298.4" y="78.6" width="13.3" height="6.7" fill="none" stroke="#484848" stroke-width="1.0"/>
<rect x="298.4" y="55.5" width="13.3" height="19.4" fill="none" stroke="#484848" stroke-width="1.0"/>
<g transform="translate(292.2,31.4) scale(0.5)" fill="none" stroke="#484848" stroke-width="2.00" stroke-linejoin="round">
<path d="M0,0 C10,-3.5 19,-6.1 26.7,-6.1 S42,-3.5 51.8,0 C42,3 34,5.5 26.7,5.5 S10,2.5 0,0 Z"/>
<path d="M0,0 L0,16.1 L-6.1,25.6 L-6.4,32.2 L6.5,33.2 C12,35 17,40.2 26.7,40.2 C40,40.2 52.3,30 52.3,12 L51.8,0"/>
<path d="M-3.5,27.4 L1.5,21.6 L5,29.4 Z"/>
</g>
<polygon points="493.6,88.3 506.8,88.3 506.8,93.5 504.6,96.8 506.5,100.8 503.0,102.0 500.2,104.1 497.4,102.0 493.9,100.8 495.8,96.8 493.6,93.5" fill="none" stroke="#484848" stroke-width="1.0"/>
<rect x="493.6" y="78.6" width="13.3" height="6.7" fill="none" stroke="#484848" stroke-width="1.0"/>
<rect x="493.6" y="55.5" width="13.3" height="19.4" fill="none" stroke="#484848" stroke-width="1.0"/>
<g transform="translate(487.3,31.4) scale(0.5)" fill="none" stroke="#484848" stroke-width="2.00" stroke-linejoin="round">
<path d="M0,0 C10,-3.5 19,-6.1 26.7,-6.1 S42,-3.5 51.8,0 C42,3 34,5.5 26.7,5.5 S10,2.5 0,0 Z"/>
<path d="M0,0 L0,16.1 L-6.1,25.6 L-6.4,32.2 L6.5,33.2 C12,35 17,40.2 26.7,40.2 C40,40.2 52.3,30 52.3,12 L51.8,0"/>
<path d="M-3.5,27.4 L1.5,21.6 L5,29.4 Z"/>
</g>
<polygon points="363.7,490.2 376.9,490.2 376.9,485.0 374.7,481.7 376.6,477.7 373.1,476.5 370.3,474.4 367.5,476.5 364.0,477.7 365.9,481.7 363.7,485.0" fill="none" stroke="#484848" stroke-width="1.0"/>
<rect x="363.7" y="493.2" width="13.3" height="6.7" fill="none" stroke="#484848" stroke-width="1.0"/>
<rect x="363.7" y="503.6" width="13.3" height="19.4" fill="none" stroke="#484848" stroke-width="1.0"/>
<g transform="translate(357.4,529.8) scale(0.5)" fill="none" stroke="#484848" stroke-width="2.00" stroke-linejoin="round">
<path d="M0,0 C10,-3.5 19,-6.1 26.7,-6.1 S42,-3.5 51.8,0 C42,3 34,5.5 26.7,5.5 S10,2.5 0,0 Z"/>
<path d="M0,0 L0,16.1 L-6.1,25.6 L-6.4,32.2 L6.5,33.2 C12,35 17,40.2 26.7,40.2 C40,40.2 52.3,30 52.3,12 L51.8,0"/>
<path d="M-3.5,27.4 L1.5,21.6 L5,29.4 Z"/>
</g>
<polygon points="428.6,490.2 441.8,490.2 441.8,485.0 439.6,481.7 441.5,477.7 438.0,476.5 435.2,474.4 432.4,476.5 428.9,477.7 430.8,481.7 428.6,485.0" fill="none" stroke="#484848" stroke-width="1.0"/>
<rect x="428.6" y="493.2" width="13.3" height="6.7" fill="none" stroke="#484848" stroke-width="1.0"/>
<rect x="428.6" y="503.6" width="13.3" height="19.4" fill="none" stroke="#484848" stroke-width="1.0"/>
<g transform="translate(422.3,529.8) scale(0.5)" fill="none" stroke="#484848" stroke-width="2.00" stroke-linejoin="round">
<path d="M0,0 C10,-3.5 19,-6.1 26.7,-6.1 S42,-3.5 51.8,0 C42,3 34,5.5 26.7,5.5 S10,2.5 0,0 Z"/>
<path d="M0,0 L0,16.1 L-6.1,25.6 L-6.4,32.2 L6.5,33.2 C12,35 17,40.2 26.7,40.2 C40,40.2 52.3,30 52.3,12 L51.8,0"/>
<path d="M-3.5,27.4 L1.5,21.6 L5,29.4 Z"/>
</g>
<rect x="428.7" y="61.8" width="13.6" height="26.3" fill="none" stroke="#484848" stroke-width="1.0"/>
<rect x="428.7" y="94.7" width="13.6" height="6.8" fill="none" stroke="#484848" stroke-width="1.0"/>
<g transform="translate(286.3,498.3) rotate(5)" fill="none" stroke="#333" stroke-width="0.9" stroke-linejoin="round">
<polygon points="-9.5,-2.1 0,-5.1 7.6,-4.2 9.5,1.6 0.3,5.3 -7.6,4.4"/>
<path d="M-9.5,-2.1 L9.5,1.6 M-7.6,4.4 L7.6,-4.2 M0,-5.1 L0.3,5.3 M-9.5,-2.1 L-1.6,-1 L-7.6,4.4 M9.5,1.6 L1.8,0.8 L7.6,-4.2 M-1.6,-1 L0,-5.1 M1.8,0.8 L0.3,5.3"/>
</g>
<g transform="translate(305.9,506.6) rotate(59)" fill="none" stroke="#333" stroke-width="0.9" stroke-linejoin="round">
<polygon points="-9.5,-2.1 0,-5.1 7.6,-4.2 9.5,1.6 0.3,5.3 -7.6,4.4"/>
<path d="M-9.5,-2.1 L9.5,1.6 M-7.6,4.4 L7.6,-4.2 M0,-5.1 L0.3,5.3 M-9.5,-2.1 L-1.6,-1 L-7.6,4.4 M9.5,1.6 L1.8,0.8 L7.6,-4.2 M-1.6,-1 L0,-5.1 M1.8,0.8 L0.3,5.3"/>
</g>
<g transform="translate(304.1,527.8) rotate(-33)" fill="none" stroke="#333" stroke-width="0.9" stroke-linejoin="round">
<polygon points="-9.5,-2.1 0,-5.1 7.6,-4.2 9.5,1.6 0.3,5.3 -7.6,4.4"/>
<path d="M-9.5,-2.1 L9.5,1.6 M-7.6,4.4 L7.6,-4.2 M0,-5.1 L0.3,5.3 M-9.5,-2.1 L-1.6,-1 L-7.6,4.4 M9.5,1.6 L1.8,0.8 L7.6,-4.2 M-1.6,-1 L0,-5.1 M1.8,0.8 L0.3,5.3"/>
</g>
<g transform="translate(283.5,531.8) rotate(37)" fill="none" stroke="#333" stroke-width="0.9" stroke-linejoin="round">
<polygon points="-9.5,-2.1 0,-5.1 7.6,-4.2 9.5,1.6 0.3,5.3 -7.6,4.4"/>
<path d="M-9.5,-2.1 L9.5,1.6 M-7.6,4.4 L7.6,-4.2 M0,-5.1 L0.3,5.3 M-9.5,-2.1 L-1.6,-1 L-7.6,4.4 M9.5,1.6 L1.8,0.8 L7.6,-4.2 M-1.6,-1 L0,-5.1 M1.8,0.8 L0.3,5.3"/>
</g>
<g transform="translate(272.4,514.4) rotate(-63)" fill="none" stroke="#333" stroke-width="0.9" stroke-linejoin="round">
<polygon points="-9.5,-2.1 0,-5.1 7.6,-4.2 9.5,1.6 0.3,5.3 -7.6,4.4"/>
<path d="M-9.5,-2.1 L9.5,1.6 M-7.6,4.4 L7.6,-4.2 M0,-5.1 L0.3,5.3 M-9.5,-2.1 L-1.6,-1 L-7.6,4.4 M9.5,1.6 L1.8,0.8 L7.6,-4.2 M-1.6,-1 L0,-5.1 M1.8,0.8 L0.3,5.3"/>
</g>
<g fill="none" stroke="#000" stroke-width="2.2">
<circle cx="514.05" cy="517.5" r="25.4"/>
<rect x="503.9" y="502.4" width="5" height="5" stroke-width="1.9"/>
<path d="M519,496.6 L519,522.7 L513.7,522.7 L513.7,533.5 L508.7,533.5 L508.7,538.5 M513.7,528.3 L508.2,528.3" stroke-linejoin="miter"/>
</g>
<rect x="740.3" y="91.3" width="77.70000000000005" height="396.09999999999997" rx="24" fill="none" stroke="#484848" stroke-width="1.0"/>
<circle cx="779.1" cy="121.0" r="8" fill="none" stroke="#484848" stroke-width="1.0"/>
<circle cx="779.1" cy="146.6" r="16.4" fill="none" stroke="#484848" stroke-width="1.0"/>
<circle cx="774.3" cy="184.5" r="20" fill="none" stroke="#484848" stroke-width="1.0"/>
<line x1="777.0" y1="190.7" x2="782.3" y2="201.4" stroke="#000" stroke-width="2.3"/>
<circle cx="760.1" cy="218.0" r="10.10" fill="#fff" stroke="#000" stroke-width="6.40"/>
<path d="M-2.2,0 L1.3,0 L2.0,-0.7 L2.0,-2.2 L1.2,-3 L-2.2,-3 L-2.2,3 L1.4,3 L2.2,2.2 L2.2,0.8 L1.3,0" transform="translate(760.1,218.1) scale(0.78,0.9)" fill="none" stroke="#3a3a3a" stroke-width="1.4" stroke-linejoin="round" stroke-linecap="round"/>
<circle cx="792.6" cy="228.8" r="10.10" fill="#fff" stroke="#000" stroke-width="6.40"/>
<path d="M-1.2,-3 L1.2,-3 L2.2,-1.8 L2.2,1.8 L1.2,3 L-1.2,3 L-2.2,1.8 L-2.2,-1.8 Z" transform="translate(792.6,228.9) scale(0.78,0.9)" fill="none" stroke="#3a3a3a" stroke-width="1.4" stroke-linejoin="round" stroke-linecap="round"/>
<circle cx="766.2" cy="250.7" r="10.10" fill="#fff" stroke="#000" stroke-width="6.40"/>
<path d="M-2.5,-3 L-1.3,3 L0,-0.6 L1.3,3 L2.5,-3" transform="translate(766.2,250.8) scale(0.78,0.9)" fill="none" stroke="#3a3a3a" stroke-width="1.4" stroke-linejoin="round" stroke-linecap="round"/>
<circle cx="792.3" cy="276.2" r="10.10" fill="#fff" stroke="#000" stroke-width="6.40"/>
<path d="M-2.2,3 L-2.2,-3 L1.2,-3 L2.2,-2 L2.2,-0.8 L1.2,0.2 L-2.2,0.2 M0.6,0.2 L2.2,3" transform="translate(792.3,276.3) scale(0.78,0.9)" fill="none" stroke="#3a3a3a" stroke-width="1.4" stroke-linejoin="round" stroke-linecap="round"/>
<circle cx="765.7" cy="297.7" r="10.10" fill="#fff" stroke="#000" stroke-width="6.40"/>
<path d="M-1.2,-3 L1.2,-3 L2.2,-1.8 L2.2,1.8 L1.2,3 L-1.2,3 L-2.2,1.8 L-2.2,-1.8 Z" transform="translate(765.7,297.8) scale(0.78,0.9)" fill="none" stroke="#3a3a3a" stroke-width="1.4" stroke-linejoin="round" stroke-linecap="round"/>
<circle cx="798.7" cy="308.7" r="10.10" fill="#fff" stroke="#000" stroke-width="6.40"/>
<path d="M-2.2,0 L1.3,0 L2.0,-0.7 L2.0,-2.2 L1.2,-3 L-2.2,-3 L-2.2,3 L1.4,3 L2.2,2.2 L2.2,0.8 L1.3,0" transform="translate(798.7,308.8) scale(0.78,0.9)" fill="none" stroke="#3a3a3a" stroke-width="1.4" stroke-linejoin="round" stroke-linecap="round"/>
<circle cx="784.5" cy="341.5" r="20" fill="none" stroke="#484848" stroke-width="1.0"/>
<line x1="775.6" y1="324.6" x2="781.5" y2="336.1" stroke="#000" stroke-width="2.3"/>
<rect x="746.6" y="367.4" width="65.3" height="77.1" fill="none" stroke="#484848" stroke-width="1.0"/>
<circle cx="779.1" cy="405.6" r="26.2" fill="none" stroke="#484848" stroke-width="1.0"/>
<path d="M764.4,405.8 L770.3,402.9 M782.3,397 L788.5,394.3 M770.3,415.8 Q783,427 793.1,406.4" fill="none" stroke="#484848" stroke-width="1.35" stroke-linecap="round"/>
<circle cx="779.1" cy="457.9" r="8" fill="none" stroke="#484848" stroke-width="1.0"/>
<defs><filter id="sh" x="-50%" y="-50%" width="200%" height="200%"><feGaussianBlur stdDeviation="9"/></filter></defs>
<rect x="801" y="4" width="112" height="112" rx="33" fill="#000" opacity="0.19" filter="url(#sh)"/>
<rect x="801" y="1" width="112" height="112" rx="33" fill="#e9eef6"/>
<g transform="translate(839.9,39.4) rotate(45)">
<path d="M4.5,-6.5 L50,-6.5 L56.5,0 L50,6.5 L4.5,6.5 A4.5,4.5 0 0 1 0,2 L0,-2 A4.5,4.5 0 0 1 4.5,-6.5 Z" fill="#1f1f1f"/>
<path d="M15.3,-2.3 L47.7,-2.3 L50,0 L47.7,2.3 L15.3,2.3 Z" fill="#f2f4f9"/>
</g>
</svg></body></html>
